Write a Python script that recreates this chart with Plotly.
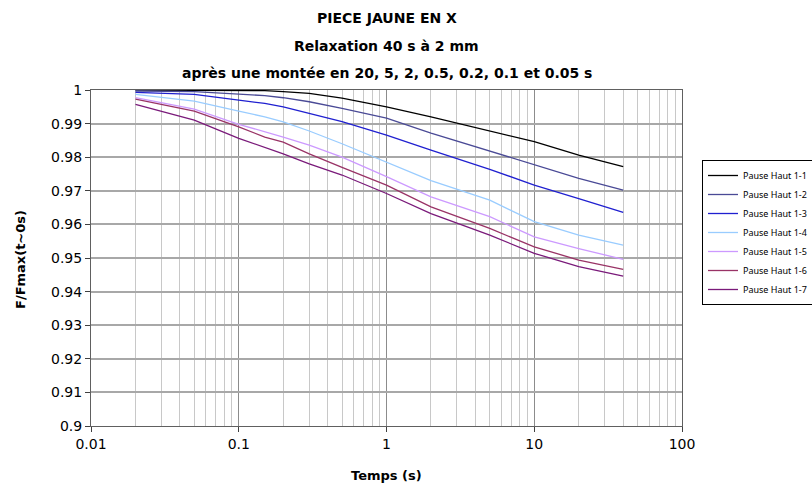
import plotly.graph_objects as go

# Time samples (s)
temps = [0.02, 0.05, 0.1, 0.15, 0.2, 0.3, 0.5, 1, 2, 5, 10, 20, 40]

# F/Fmax(t~0s)
pause_1_1 = [1.0000, 1.0000, 0.9999, 0.9998, 0.9995, 0.9990, 0.9976, 0.9950, 0.9920, 0.9878, 0.9846, 0.9806, 0.9772]
pause_1_2 = [0.9997, 0.9995, 0.9988, 0.9983, 0.9977, 0.9965, 0.9945, 0.9916, 0.9872, 0.9818, 0.9777, 0.9737, 0.9702]
pause_1_3 = [0.9993, 0.9987, 0.9970, 0.9960, 0.9950, 0.9930, 0.9906, 0.9866, 0.9821, 0.9764, 0.9717, 0.9677, 0.9636]
pause_1_4 = [0.9987, 0.9967, 0.9937, 0.9920, 0.9905, 0.9878, 0.9840, 0.9785, 0.9730, 0.9672, 0.9608, 0.9568, 0.9538]
pause_1_5 = [0.9977, 0.9943, 0.9898, 0.9876, 0.9860, 0.9836, 0.9800, 0.9742, 0.9682, 0.9623, 0.9563, 0.9528, 0.9496]
pause_1_6 = [0.9973, 0.9937, 0.9890, 0.9860, 0.9845, 0.9810, 0.9770, 0.9717, 0.9652, 0.9588, 0.9533, 0.9494, 0.9466]
pause_1_7 = [0.9957, 0.9910, 0.9856, 0.9830, 0.9810, 0.9780, 0.9747, 0.9692, 0.9632, 0.9568, 0.9514, 0.9474, 0.9446]

series_names = ["Pause Haut 1-1", "Pause Haut 1-2", "Pause Haut 1-3", "Pause Haut 1-4",
                "Pause Haut 1-5", "Pause Haut 1-6", "Pause Haut 1-7"]
series_values = [pause_1_1, pause_1_2, pause_1_3, pause_1_4, pause_1_5, pause_1_6, pause_1_7]
colors = ["#000000", "#4a4a96", "#2020d0", "#99ccff", "#cc99ff", "#993366", "#7a1a7a"]

y_tickvals = [1.0, 0.99, 0.98, 0.97, 0.96, 0.95, 0.94, 0.93, 0.92, 0.91, 0.90]
y_ticktext = ["1", "0.99", "0.98", "0.97", "0.96", "0.95", "0.94", "0.93", "0.92", "0.91", "0.9"]
x_tickvals = [0.01, 0.1, 1, 10, 100]
x_ticktext = ["0.01", "0.1", "1", "10", "100"]

title_lines = ["PIECE JAUNE EN X", "Relaxation 40 s à 2 mm",
               "après une montée en 20, 5, 2, 0.5, 0.2, 0.1 et 0.05 s"]

FONT = "DejaVu Sans"

fig = go.Figure()
for name, vals, col in zip(series_names, series_values, colors):
    fig.add_trace(go.Scatter(x=temps, y=vals, mode="lines", name=name,
                             line=dict(color=col, width=1.3)))

W, H = 812, 489
L, R, T, B = 91, 130, 90, 63
PW, PH = W - L - R, H - T - B

def px(xp):
    return (xp - L) / PW

def py(yp):
    return (H - B - yp) / PH

fig.update_layout(
    width=W, height=H,
    margin=dict(l=L, r=R, t=T, b=B, autoexpand=False),
    paper_bgcolor="white", plot_bgcolor="white",
    font=dict(family=FONT, color="black", size=12),
    showlegend=True,
    legend=dict(x=px(702), y=py(160),
                xanchor="left", yanchor="top",
                bordercolor="black", borderwidth=1, bgcolor="white",
                font=dict(family="Noto Sans", size=9), itemwidth=30,
                tracegroupgap=0),
)

fig.update_xaxes(
    type="log", range=[-2, 2],
    tickvals=x_tickvals, ticktext=x_ticktext,
    ticks="outside", ticklen=5, tickcolor="#404040",
    tickfont=dict(size=14),
    showgrid=True, gridcolor="#8c8c8c", gridwidth=1,
    minor=dict(dtick="D1", showgrid=True, gridcolor="#c8c8c8", gridwidth=1, ticks=""),
    showline=True, linecolor="#606060", linewidth=1, mirror=True,
    zeroline=False,
)
fig.update_yaxes(
    range=[0.9, 1.0],
    tickvals=y_tickvals, ticktext=y_ticktext,
    ticks="outside", ticklen=5, tickcolor="#404040",
    tickfont=dict(size=14),
    showgrid=True, gridcolor="#a8a8a8", gridwidth=1.5,
    showline=True, linecolor="#606060", linewidth=1, mirror=True,
    zeroline=False,
)

title_y = [18, 46, 73]
for txt, yy in zip(title_lines, title_y):
    fig.add_annotation(text="<b>" + txt + "</b>", xref="paper", yref="paper",
                       x=0.5, y=py(yy), showarrow=False,
                       xanchor="center", yanchor="middle",
                       font=dict(family=FONT, size=14, color="black"))

fig.add_annotation(text="<b>Temps (s)</b>", xref="paper", yref="paper",
                   x=0.5, y=py(475), showarrow=False,
                   xanchor="center", yanchor="middle",
                   font=dict(family=FONT, size=13, color="black"))
fig.add_annotation(text="<b>F/Fmax(t~0s)</b>", xref="paper", yref="paper",
                   x=px(20), y=py(260), showarrow=False, textangle=-90,
                   xanchor="center", yanchor="middle",
                   font=dict(family=FONT, size=13, color="black"))

fig.write_html("out.html", config={"displayModeBar": False},
               post_script="document.body.style.margin='0';")
